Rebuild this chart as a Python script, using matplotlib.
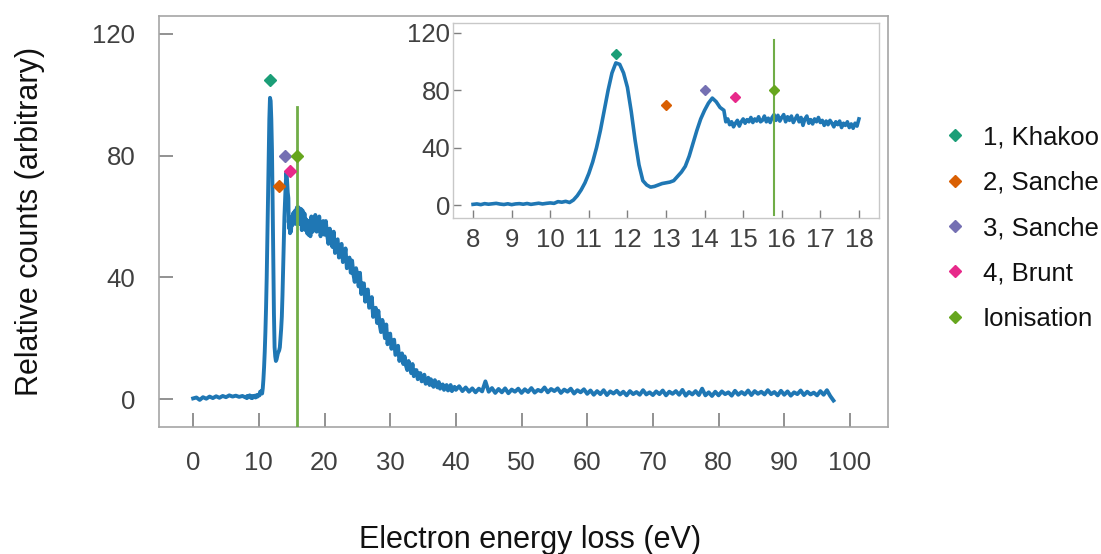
import numpy as np
import matplotlib
matplotlib.use("Agg")
import matplotlib.pyplot as plt
from matplotlib.lines import Line2D

plt.rcParams['font.family'] = ['Liberation Sans', 'DejaVu Sans']

# ---------------- data ----------------
# spectrum, segment 1: 0 - 7.5 eV (step 0.5)
e_seg1 = np.arange(0.0, 7.75, 0.5)
c_seg1 = [0.2, 0.5, -0.3, 0.6, 0.1, 0.8, 0.3, 0.9, 0.4, 1.0, 0.6, 1.2, 0.8, 1.1, 0.7, 1.0]

# segment 2: 8.0 - 14.4 eV (step 0.1)
e_seg2 = np.round(np.arange(8.0, 14.45, 0.1), 2)
c_seg2 = [0.5, 0.8, 0.3, 1.0, 0.6, 0.9, 1.2, 0.7, 0.4, 0.9,
          0.3, 0.8, 1.0, 0.6, 1.1, 0.5, 0.9, 1.3, 0.8, 1.2,
          1.5, 1.2, 2.4, 2.0, 2.6, 1.8, 3.5, 6.5, 10.5, 15.5,
          22, 30, 40, 52, 66, 80, 92, 99, 98, 92,
          82, 65, 45, 28, 17, 14, 12.5, 13, 14, 15,
          15.5, 16, 17, 20, 23, 27, 34, 43, 52, 60,
          66, 71, 74.5, 72, 68]

# segment 2b: 14.5 - 17.95 eV (step 0.05)
e_seg2b = np.round(np.arange(14.5, 17.97, 0.05), 2)
c_seg2b = [66, 58, 60, 56, 58, 54.5, 57, 59, 55, 58,
           60, 57, 59.5, 58, 61, 57.5, 60, 58.5, 61.5, 58,
           59, 62, 58, 60.5, 57.5, 61, 63, 59, 62.5, 58.5,
           61, 63, 58, 61.5, 59, 62, 57.5, 60, 62.5, 58,
           61, 55.5, 60, 62, 57, 59.5, 56.5, 60, 58, 61,
           57.5, 59, 55.5, 58.5, 56, 59, 57, 54.5, 58, 56,
           58.5, 54, 57, 55.5, 58, 54, 56.5, 53.5, 57, 55]

# segment 3: 18.0 - 39.8 eV (step 0.2)
e_seg3 = np.round(np.arange(18.0, 39.85, 0.2), 2)
c_seg3 = [60, 55, 58.5, 60.5, 55, 56, 60, 53.5, 56.5, 58.5,
          54, 58.5, 54, 51, 56, 54, 50, 55, 48, 52,
          52.5, 46.5, 50, 51, 45, 46, 49.5, 43, 45, 46.5,
          41.5, 45.5, 41, 38.5, 43, 41, 37, 41.5, 34.5, 38,
          38, 32, 35.5, 36, 30, 30.5, 33.5, 27, 29, 30,
          25, 29, 24.5, 22, 26, 24, 20, 24.5, 18, 21,
          21.5, 16.5, 19, 19.5, 14.5, 15, 17.5, 12.5, 14, 15,
          11.5, 14, 11, 9.5, 12.5, 11, 8.5, 11.5, 7.5, 9.5,
          9.5, 6.5, 8.5, 8.5, 5.8, 6.2, 8, 5, 6, 7,
          4.6, 6.5, 4.8, 4, 6.2, 5.2, 3.8, 5.6, 3.4, 4.6,
          4.8, 3.0, 4.2, 4.6, 2.8, 3.2, 4.6, 2.6, 3.3, 4.0]

# segment 4: 40 - 97.5 eV (step 0.5)
e_seg4 = np.arange(40.0, 97.75, 0.5)
c_seg4 = [3.0, 4.2, 2.6, 3.8, 2.4, 3.5, 2.2, 3.4, 2.5, 5.8,
          2.4, 3.6, 2.0, 3.3, 2.2, 3.5, 1.9, 3.1, 2.4, 3.4,
          2.0, 3.2, 2.3, 3.6, 2.1, 3.0, 2.5, 3.8, 2.2, 3.3,
          2.6, 3.5, 2.0, 3.1, 2.4, 3.4, 1.8, 2.9, 2.2, 3.2,
          1.7, 2.8, 1.4, 2.6, 1.6, 2.9, 1.3, 2.5, 1.8, 2.7,
          1.5, 2.4, 1.2, 2.6, 1.6, 2.3, 1.4, 2.9, 1.5, 2.2,
          1.3, 2.5, 1.6, 2.8, 1.2, 2.4, 1.7, 2.6, 1.4, 3.0,
          1.1, 2.3, 1.5, 2.6, 1.3, 3.4, 1.2, 2.2, 1.0, 2.4,
          1.2, 2.5, 1.6, 2.2, 1.1, 2.7, 1.4, 2.3, 1.5, 2.8,
          1.3, 2.6, 1.7, 2.4, 1.5, 2.9, 1.6, 2.3, 1.2, 2.7,
          1.4, 2.5, 1.1, 2.2, 1.6, 2.8, 1.3, 2.4, 1.5, 2.1,
          1.2, 2.6, 1.4, 2.9, 1.0, -0.5]

energy = np.concatenate([e_seg1, e_seg2, e_seg2b, e_seg3, e_seg4])
counts = np.concatenate([c_seg1, c_seg2, c_seg2b, c_seg3, c_seg4])

# reference markers
ref_labels = ["1, Khakoo", "2, Sanche", "3, Sanche", "4, Brunt", "Ionisation"]
ref_energy = [11.7, 13.0, 14.0, 14.8, 15.8]
ref_value = [105, 70, 80, 75, 80]
ref_colors = ["#1b9e77", "#d95f02", "#7570b3", "#e7298a", "#66a61e"]

ion_energy = 15.8
ion_main_span = [-12, 96]
ion_inset_span = [-7, 115]
inset_range = [8.0, 18.0]

main_xticks = list(range(0, 101, 10))
main_yticks = [0, 40, 80, 120]
inset_xticks = list(range(8, 19))
inset_yticks = [0, 40, 80, 120]

# ---------------- figure ----------------
W, H = 1101, 554
fig = plt.figure(figsize=(W / 100, H / 100), dpi=100)

def frac(l, r, b, t):
    return [l / W, 1 - b / H, (r - l) / W, (b - t) / H]

line_col = "#1f77b4"
spine_col = "#a6a6a6"
tick_col = "#7f7f7f"
label_col = "#404040"
tick_fs = 18.5

ax = fig.add_axes(frac(159, 888, 427, 16))
ax.plot(energy, counts, color=line_col, lw=2.8, zorder=2)
ax.plot([ion_energy, ion_energy], ion_main_span, color="#70ad47", lw=2.0, zorder=3)
for e, v, c in zip(ref_energy, ref_value, ref_colors):
    ax.plot(e, v, marker="D", ms=6.6, color=c, ls="none", zorder=4)
ax.set_xlim(-5.2, 105.8)
ax.set_ylim(-9.2, 125.9)
ax.set_xticks(main_xticks)
ax.set_yticks(main_yticks)
ax.tick_params(direction="in", length=10, width=1.2, color=tick_col,
               labelsize=tick_fs, labelcolor=label_col)
ax.tick_params(axis="x", pad=17)
ax.tick_params(axis="y", pad=17)
for s in ax.spines.values():
    s.set_color(spine_col)
    s.set_linewidth(1.2)
ax.set_xlabel("Electron energy loss (eV)", fontsize=22, color="#111111", labelpad=36)
ax.xaxis.label.set_x(0.509)
ax.set_ylabel("Relative counts (arbitrary)", fontsize=22, color="#111111", labelpad=34)

# inset
sel = (energy >= inset_range[0]) & (energy <= inset_range[1])
axi = fig.add_axes(frac(453, 879, 218, 23))
axi.set_facecolor("white")
axi.plot(energy[sel], counts[sel], color=line_col, lw=2.6, zorder=2)
axi.plot([ion_energy, ion_energy], ion_inset_span, color="#70ad47", lw=1.5, zorder=3)
for e, v, c in zip(ref_energy, ref_value, ref_colors):
    axi.plot(e, v, marker="D", ms=5.4, color=c, ls="none", zorder=4)
axi.set_xlim(7.48, 18.52)
axi.set_ylim(-9, 126.8)
axi.set_xticks(inset_xticks)
axi.set_yticks(inset_yticks)
axi.tick_params(direction="in", length=6, width=1.0, color=tick_col,
                labelsize=tick_fs, labelcolor=label_col)
axi.tick_params(axis="x", pad=7)
axi.tick_params(axis="y", pad=2)
for s in axi.spines.values():
    s.set_color("#c8c8c8")
    s.set_linewidth(1.0)

# legend
handles = [Line2D([], [], marker="D", ls="none", ms=6, color=c) for c in ref_colors]
fig.legend(handles, ref_labels, loc="center left",
           bbox_to_anchor=(942 / W, 1 - 228 / H), frameon=False,
           fontsize=18.5, labelspacing=0.83, handlelength=1.0, handletextpad=0.6,
           borderpad=0, borderaxespad=0, labelcolor="#111111")

fig.savefig("out.png", dpi=100)
